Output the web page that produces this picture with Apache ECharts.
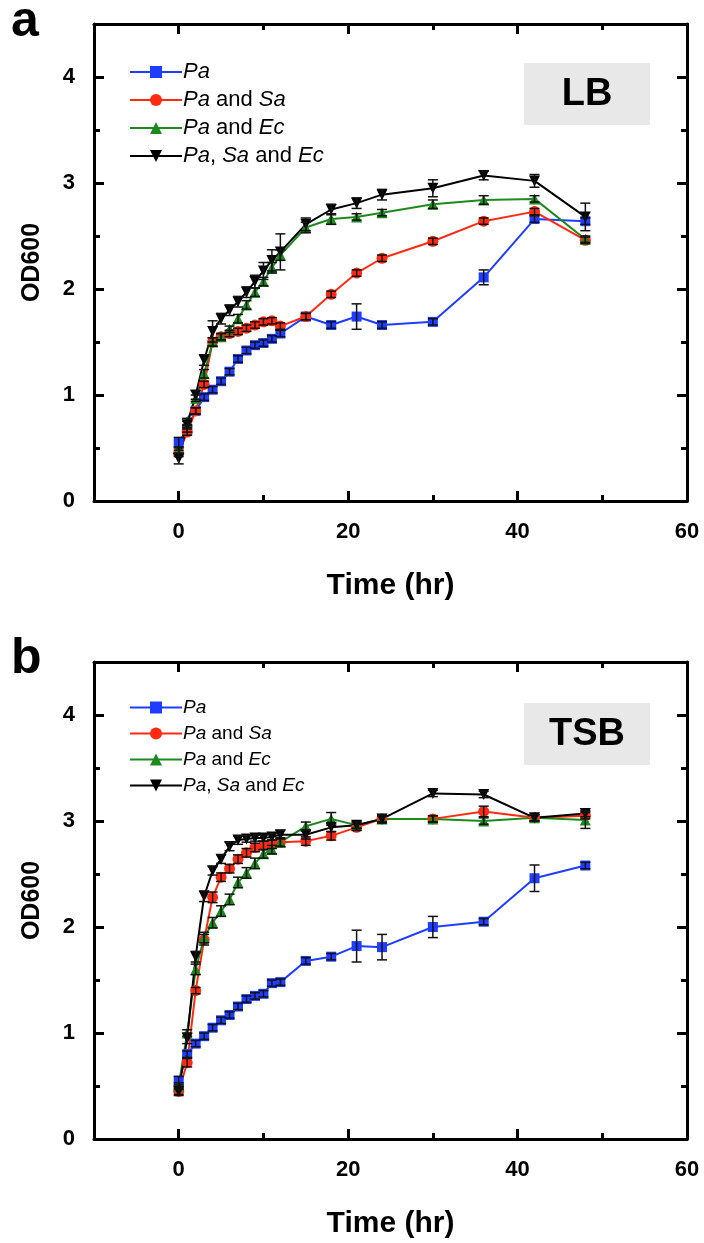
<!DOCTYPE html>
<html><head><meta charset="utf-8">
<script src="https://cdn.jsdelivr.net/npm/echarts@6/dist/echarts.min.js"></script>
<style>html,body{margin:0;padding:0;background:#fff}#c{width:704px;height:1243px}</style>
</head><body><div id="c"></div>
<script>
// ---------- data ----------
const times = [0,1,2,3,4,5,6,7,8,9,10,11,12,15,18,21,24,30,36,42,48];
const seriesNames = ['Pa','Pa and Sa','Pa and Ec','Pa, Sa and Ec'];
const xTickLabels = [0,20,40,60];
const yTickLabels = [0,1,2,3,4];
const panelLabels = ['a','b'];
const mediumLabels = ['LB','TSB'];

// LB medium (panel a)
const lbPa     = [0.55,0.68,0.85,0.98,1.05,1.13,1.22,1.34,1.42,1.47,1.49,1.53,1.58,1.74,1.66,1.74,1.66,1.69,2.11,2.66,2.64];
const lbPaSa   = [0.45,0.65,0.85,1.10,1.50,1.55,1.58,1.60,1.63,1.66,1.69,1.70,1.65,1.74,1.95,2.15,2.29,2.45,2.64,2.73,2.46];
const lbPaEc   = [0.48,0.75,0.97,1.20,1.50,1.55,1.62,1.72,1.85,1.97,2.07,2.20,2.32,2.58,2.66,2.68,2.72,2.80,2.84,2.85,2.47];
const lbPaSaEc = [0.40,0.72,1.00,1.33,1.60,1.72,1.80,1.88,1.97,2.07,2.17,2.27,2.35,2.61,2.75,2.81,2.89,2.95,3.07,3.02,2.68];
const lbPaErr     = [0.05,0.03,0.03,0.03,0.03,0.03,0.03,0.03,0.03,0.03,0.03,0.03,0.03,0.03,0.03,0.12,0.03,0.03,0.07,0.03,0.03];
const lbPaSaErr   = [0.03,0.03,0.03,0.03,0.04,0.03,0.03,0.03,0.03,0.03,0.03,0.03,0.03,0.03,0.03,0.03,0.03,0.03,0.03,0.03,0.03];
const lbPaEcErr   = [0.03,0.03,0.03,0.04,0.04,0.03,0.03,0.04,0.04,0.04,0.04,0.05,0.05,0.05,0.05,0.03,0.03,0.04,0.04,0.03,0.03];
const lbPaSaEcErr = [0.05,0.03,0.04,0.05,0.10,0.05,0.05,0.05,0.05,0.06,0.08,0.10,0.17,0.06,0.05,0.05,0.05,0.08,0.04,0.06,0.13];

// TSB medium (panel b)
const tsbPa     = [0.55,0.80,0.90,0.97,1.05,1.12,1.17,1.25,1.32,1.35,1.37,1.47,1.48,1.68,1.72,1.82,1.81,2.00,2.05,2.46,2.58];
const tsbPaSa   = [0.45,0.72,1.40,1.88,2.28,2.47,2.55,2.64,2.70,2.75,2.77,2.78,2.80,2.81,2.86,2.94,3.02,3.02,3.09,3.03,3.05];
const tsbPaEc   = [0.50,1.00,1.60,1.90,2.04,2.15,2.26,2.42,2.51,2.60,2.69,2.73,2.80,2.95,3.02,2.96,3.02,3.02,3.00,3.03,3.01];
const tsbPaSaEc = [0.45,0.95,1.72,2.29,2.53,2.64,2.76,2.82,2.83,2.84,2.84,2.85,2.87,2.87,2.94,2.96,3.02,3.26,3.25,3.03,3.07];
const tsbPaErr     = [0.04,0.03,0.03,0.03,0.03,0.03,0.03,0.03,0.03,0.03,0.03,0.03,0.03,0.03,0.03,0.15,0.12,0.10,0.03,0.125,0.03];
const tsbPaSaErr   = [0.03,0.04,0.03,0.05,0.05,0.04,0.04,0.04,0.04,0.04,0.04,0.04,0.04,0.04,0.04,0.03,0.03,0.03,0.05,0.03,0.03];
const tsbPaEcErr   = [0.03,0.03,0.05,0.05,0.05,0.05,0.05,0.05,0.05,0.05,0.04,0.04,0.04,0.04,0.06,0.03,0.03,0.03,0.03,0.03,0.08];
const tsbPaSaEcErr = [0.04,0.05,0.05,0.05,0.04,0.04,0.04,0.04,0.03,0.03,0.03,0.03,0.04,0.04,0.04,0.03,0.04,0.03,0.03,0.03,0.03];

// ---------- styling ----------
const FONT = '"Liberation Sans", Arial, sans-serif';
const colors  = ['#1f3dff', '#ff2a12', '#1c8a1c', '#000000'];
const symbols = ['rect', 'circle', 'triangle', 'triangle'];
const rotates = [0, 0, 0, 180];
const symSizes = [10, 11, 11, 11];

const panels = [
  {vals:[lbPa,lbPaSa,lbPaEc,lbPaSaEc], errs:[lbPaErr,lbPaSaErr,lbPaEcErr,lbPaSaEcErr]},
  {vals:[tsbPa,tsbPaSa,tsbPaEc,tsbPaSaEc], errs:[tsbPaErr,tsbPaSaErr,tsbPaEcErr,tsbPaSaEcErr]}
];
const gridTops = [24, 662];
const gridH = 477;

const axisLine = {onZero:false, lineStyle:{color:'#000', width:3}};
const noLine = {show:false, onZero:false};
const tickStyle = {color:'#000', width:3};

function xAxes(gi){
  const base = {gridIndex:gi, type:'value', min:-10, max:60, splitLine:{show:false}};
  return [
    Object.assign({}, base, {position:'bottom', axisLine,
      axisTick:{inside:true, length:10, customValues:xTickLabels, lineStyle:tickStyle},
      axisLabel:{customValues:xTickLabels, color:'#000', fontSize:22, fontWeight:'bold', fontFamily:FONT, margin:20},
      name:'Time (hr)', nameLocation:'middle', nameGap:70,
      nameTextStyle:{color:'#000', fontSize:30, fontWeight:'bold', fontFamily:FONT}}),
    Object.assign({}, base, {position:'bottom', interval:10, axisLine:noLine,
      axisTick:{inside:true, length:6, lineStyle:tickStyle}, axisLabel:{show:false}}),
    Object.assign({}, base, {position:'top', axisLine,
      axisTick:{inside:true, length:10, customValues:xTickLabels, lineStyle:tickStyle}, axisLabel:{show:false}}),
    Object.assign({}, base, {position:'top', interval:10, axisLine:noLine,
      axisTick:{inside:true, length:6, lineStyle:tickStyle}, axisLabel:{show:false}})
  ];
}
function yAxes(gi){
  const base = {gridIndex:gi, type:'value', min:0, max:4.5, splitLine:{show:false}};
  return [
    Object.assign({}, base, {position:'left', interval:1, axisLine,
      axisTick:{inside:true, length:10, customValues:yTickLabels, lineStyle:tickStyle},
      axisLabel:{customValues:yTickLabels, color:'#000', fontSize:22, fontWeight:'bold', fontFamily:FONT, margin:19},
      name:'OD600', nameLocation:'middle', nameGap:49, nameRotate:90,
      nameTextStyle:{color:'#000', fontSize:25, fontWeight:'bold', fontFamily:FONT}}),
    Object.assign({}, base, {position:'left', interval:0.5, axisLine:noLine,
      axisTick:{inside:true, length:6, lineStyle:tickStyle}, axisLabel:{show:false}}),
    Object.assign({}, base, {position:'right', interval:1, axisLine,
      axisTick:{inside:true, length:10, customValues:yTickLabels, lineStyle:tickStyle}, axisLabel:{show:false}}),
    Object.assign({}, base, {position:'right', interval:0.5, axisLine:noLine,
      axisTick:{inside:true, length:6, lineStyle:tickStyle}, axisLabel:{show:false}})
  ];
}

function errRender(params, api){
  const x = api.value(0), lo = api.value(1), hi = api.value(2);
  const a = api.coord([x, hi]), b = api.coord([x, lo]);
  const w = 5, st = {stroke:'#111', lineWidth:1.5};
  return {type:'group', children:[
    {type:'line', shape:{x1:a[0], y1:a[1], x2:b[0], y2:b[1]}, style:st},
    {type:'line', shape:{x1:a[0]-w, y1:a[1], x2:a[0]+w, y2:a[1]}, style:st},
    {type:'line', shape:{x1:b[0]-w, y1:b[1], x2:b[0]+w, y2:b[1]}, style:st}
  ]};
}

const series = [];
const xAxis = [], yAxis = [];
panels.forEach((p, gi) => {
  xAxis.push(...xAxes(gi));
  yAxis.push(...yAxes(gi));
  p.vals.forEach((vals, si) => {
    series.push({
      name: seriesNames[si], type:'line', xAxisIndex: gi*4, yAxisIndex: gi*4,
      data: times.map((t, k) => [t, vals[k]]),
      symbol: symbols[si], symbolRotate: rotates[si], symbolSize: symSizes[si],
      lineStyle:{color:colors[si], width:2}, itemStyle:{color:colors[si]},
      z: 2, silent:true
    });
  });
  p.vals.forEach((vals, si) => {
    series.push({
      type:'custom', xAxisIndex: gi*4, yAxisIndex: gi*4, z:3, silent:true,
      renderItem: errRender, encode:{x:0, y:[1,2]},
      data: times.map((t, k) => [t, vals[k]-p.errs[si][k], vals[k]+p.errs[si][k]])
    });
  });
});

function legendFmt(name){
  return name.replace(/\b(Pa|Sa|Ec)\b/g, m => '{i|' + m + '}');
}
function legend(top, fs, gap){
  return {
    orient:'vertical', left:129, top, padding:0, itemWidth:52, itemHeight:15, itemGap:gap,
    data: seriesNames, formatter: legendFmt, selectedMode:false,
    textStyle:{color:'#000', fontSize:fs, fontFamily:FONT, padding:[0,0,0,-4],
      rich:{i:{fontStyle:'italic', fontSize:fs, fontFamily:FONT, color:'#000'}}}
  };
}

const graphic = [];
panelLabels.forEach((lab, gi) => {
  graphic.push({type:'text', left:11, top: gi===0 ? -3 : 634,
    style:{text:lab, font:'bold 50px ' + FONT, fill:'#000'}});
  graphic.push({type:'group', left:524, top: gi===0 ? 63 : 703, children:[
    {type:'rect', shape:{x:0, y:0, width:126, height:62}, style:{fill:'#e8e8e8'}},
    {type:'text', x:63, y:32, style:{text:mediumLabels[gi], font:'bold 38px ' + FONT, fill:'#000', align:'center', verticalAlign:'middle'}}
  ]});
});

const option = {
  animation:false,
  backgroundColor:'#fff',
  grid: gridTops.map(t => ({left:94, right:17, top:t, height:gridH, containLabel:false})),
  xAxis, yAxis,
  legend:[legend(61, 22, 6), legend(698, 19, 7)],
  series, graphic
};
const chart = echarts.init(document.getElementById('c'), null, {renderer:'canvas'});
chart.setOption(option);
</script></body></html>
